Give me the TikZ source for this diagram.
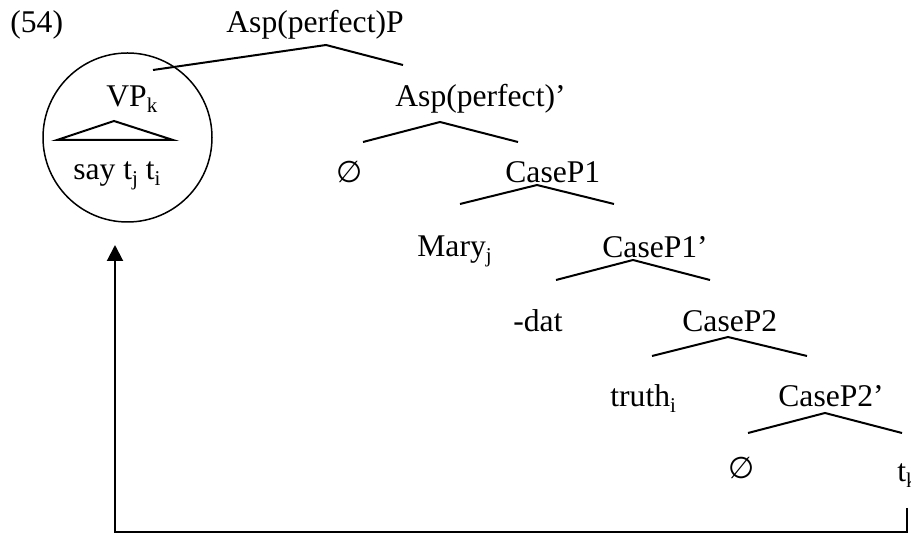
\documentclass[tikz,border=0pt]{standalone}
\usepackage{fontspec}
\setmainfont{Liberation Serif}
\newfontfamily\symfnt{DejaVu Sans}
\usetikzlibrary{arrows.meta}
\newcommand\lsub[1]{\raisebox{-0.18em}{\fontsize{10.5}{10.5}\selectfont #1}}
\begin{document}
\begin{tikzpicture}[x=0.5pt,y=-0.5pt,
  lbl/.style={inner sep=0pt,anchor=base west,font=\fontsize{15.8}{18}\selectfont},
  nul/.style={inner sep=0pt,anchor=center,font=\fontsize{15}{18}\symfnt},
  roof/.style={line width=1pt},
  mover/.style={line width=1pt}]
\useasboundingbox (0,0) rectangle (911,533);
% labels
\node[lbl] (ex) at (10,33) {(54)};
\node[lbl] (aspP) at (226,33) {Asp(perfect)P};
\node[lbl] (vp) at (106,107) {VP\lsub{k}};
\node[lbl] (say) at (73,180) {say t\lsub{j} t\lsub{i}};
\node[lbl] (aspbar) at (395,107) {Asp(perfect)’};
\node[nul] (null1) at (350,172) {∅};
\node[lbl] (cp1) at (505,183) {CaseP1};
\node[lbl] (mary) at (417,257) {Mary\lsub{j}};
\node[lbl] (cp1bar) at (602,258) {CaseP1’};
\node[lbl] (dat) at (513,332) {-dat};
\node[lbl] (cp2) at (682,332) {CaseP2};
\node[lbl] (truth) at (610,407) {truth\lsub{i}};
\node[lbl] (cp2bar) at (778,407) {CaseP2’};
\node[nul] (null2) at (742,468) {∅};
\node[lbl] (tk) at (897,482) {t\lsub{k}};
% circle around VP
\node[circle,draw,line width=0.75pt,minimum size=84.5pt,inner sep=0pt] (vpc) at (127.5,137.5) {};
% triangle
\coordinate (triA) at (114,121);
\coordinate (triL) at (57,140);
\coordinate (triR) at (173,140);
\draw[roof] (triL) -- (triA) -- (triR) -- cycle;
% roofs
\coordinate (r0a) at (326,45); \coordinate (r0l) at (153,70); \coordinate (r0r) at (403,65);
\coordinate (r1a) at (440,122); \coordinate (r1l) at (363,142); \coordinate (r1r) at (518,142);
\coordinate (r2a) at (537,185); \coordinate (r2l) at (460,204); \coordinate (r2r) at (614,204);
\coordinate (r3a) at (633,260); \coordinate (r3l) at (556,280); \coordinate (r3r) at (710,280);
\coordinate (r4a) at (728,337); \coordinate (r4l) at (652,356); \coordinate (r4r) at (807,356);
\coordinate (r5a) at (825,413); \coordinate (r5l) at (748,433); \coordinate (r5r) at (902,433);
\draw[roof] (r0l) -- (r0a) -- (r0r);
\draw[roof] (r1l) -- (r1a) -- (r1r);
\draw[roof] (r2l) -- (r2a) -- (r2r);
\draw[roof] (r3l) -- (r3a) -- (r3r);
\draw[roof] (r4l) -- (r4a) -- (r4r);
\draw[roof] (r5l) -- (r5a) -- (r5r);
% movement arrow
\coordinate (mvstart) at (907,508);
\coordinate (mvc1) at (907,532);
\coordinate (mvc2) at (115,532);
\coordinate (mvend) at (115,245);
\draw[mover,-{Triangle[width=8pt,length=8pt]}] (mvstart) -- (mvc1) -- (mvc2) -- (mvend);
\end{tikzpicture}
\end{document}
